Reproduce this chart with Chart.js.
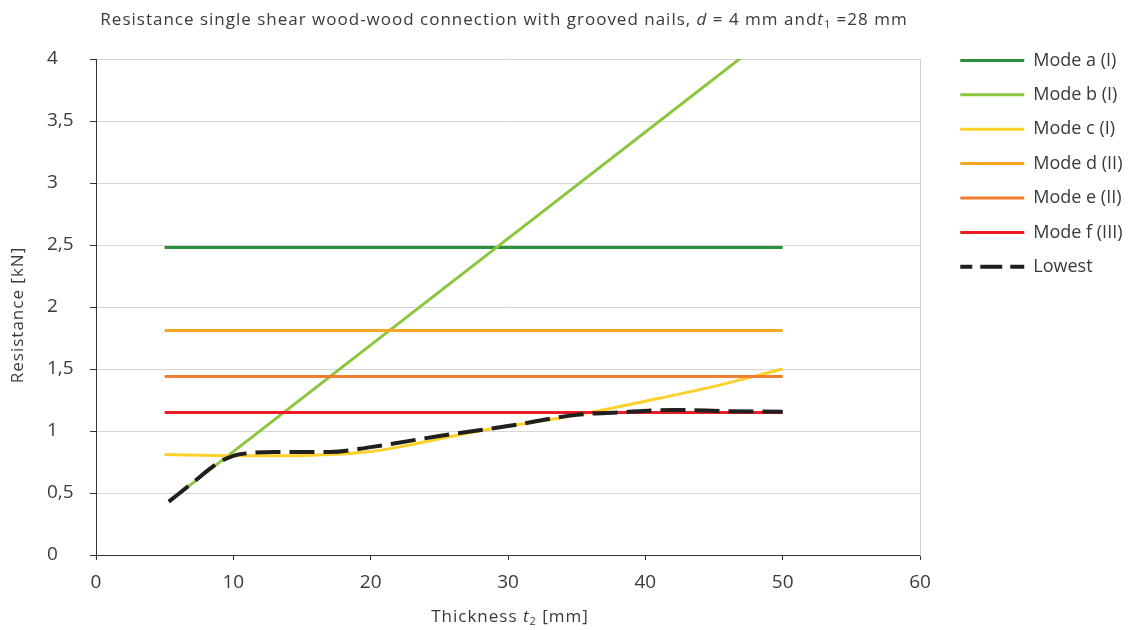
<!DOCTYPE html>
<html>
<head>
<meta charset="utf-8">
<script src="https://cdn.jsdelivr.net/npm/chart.js@4.4.1/dist/chart.umd.min.js"></script>
<style>
  body { margin: 0; background: #fff; }
  #wrap { width: 1139px; height: 630px; position: relative; }
</style>
</head>
<body>
<div id="wrap"><canvas id="resChart"></canvas></div>
<script>
// values
const seriesNames = ['Mode a (I)', 'Mode b (I)', 'Mode c (I)', 'Mode d (II)', 'Mode e (II)', 'Mode f (III)', 'Lowest'];

const flatX = [5, 50];
const modeA = [2.48, 2.48];
const modeD = [1.81, 1.81];
const modeE = [1.44, 1.44];
const modeF = [1.15, 1.15];

const modeBX = [5.3, 50];
const modeB = [0.43, 4.27];

const modeCX = [5, 10, 14, 17, 20, 22, 26, 30, 33, 36, 40, 45, 50];
const modeC = [0.81, 0.80, 0.80, 0.81, 0.835, 0.87, 0.96, 1.04, 1.09, 1.15, 1.24, 1.36, 1.50];

const lowX = [5.3, 7, 9, 10, 11, 13, 17, 20, 25, 30, 35, 38, 42, 46, 50];
const lowY = [0.43, 0.58, 0.75, 0.80, 0.82, 0.83, 0.83, 0.87, 0.96, 1.04, 1.13, 1.15, 1.17, 1.16, 1.155];

const xTicks = [0, 10, 20, 30, 40, 50, 60];
const yTicks = [0, 0.5, 1, 1.5, 2, 2.5, 3, 3.5, 4];

function pts(xs, ys) {
  return xs.map((x, i) => ({ x: x, y: ys[i] }));
}

const FONT = '"Open Sans", "DejaVu Sans", sans-serif';
const TXT = '#3a3a3a';
const PLOT_RIGHT = 920;

// draws a line of text made of normal / italic / subscript pieces
function drawRich(ctx, parts, cx, cy, size, rotate) {
  ctx.save();
  ctx.letterSpacing = '1px';
  ctx.fillStyle = TXT;
  ctx.textBaseline = 'middle';
  ctx.textAlign = 'left';
  const fonts = parts.map(p => (p.i ? 'italic ' : '') + (p.sub ? Math.round(size * 0.65) : size) + 'px ' + FONT);
  let total = 0;
  const widths = parts.map((p, k) => { ctx.font = fonts[k]; const w = ctx.measureText(p.t).width; total += w; return w; });
  ctx.translate(cx, cy);
  if (rotate) ctx.rotate(-Math.PI / 2);
  let x = -total / 2;
  parts.forEach((p, k) => {
    ctx.font = fonts[k];
    ctx.fillText(p.t, x, p.sub ? size * 0.3 : 0);
    x += widths[k];
  });
  ctx.restore();
}

const richText = {
  id: 'richText',
  afterDraw(chart) {
    const ctx = chart.ctx;
    const a = chart.chartArea;
    const mid = (a.left + a.right) / 2;
    drawRich(ctx, [
      { t: 'Resistance single shear wood-wood connection with grooved nails, ' },
      { t: 'd', i: true },
      { t: ' = 4 mm and' },
      { t: 't', i: true },
      { t: '1', sub: true },
      { t: ' =28 mm' }
    ], mid - 4, 20, 17);
    drawRich(ctx, [
      { t: 'Thickness ' },
      { t: 't', i: true },
      { t: '2', sub: true },
      { t: ' [mm]' }
    ], mid + 2, 617, 17);
    drawRich(ctx, [{ t: 'Resistance [kN]' }], 18, (a.top + a.bottom) / 2 + 8, 17, true);
  }
};

// right padding so the legend lines start near x = 958
const mctx = document.createElement('canvas').getContext('2d');
mctx.font = '18px ' + FONT;
const widest = Math.max(...seriesNames.map(s => mctx.measureText(s).width));
const legendW = 16 + 64 + 9 + widest + 10;
const padRight = Math.max(0, 1139 - 942 - legendW + 7);

const ctx = document.getElementById('resChart').getContext('2d');
new Chart(ctx, {
  type: 'line',
  data: {
    datasets: [
      { label: seriesNames[0], data: pts(flatX, modeA), borderColor: '#2b8f3d', backgroundColor: '#2b8f3d', borderWidth: 3, order: 6 },
      { label: seriesNames[1], data: pts(modeBX, modeB), borderColor: '#8cc63f', backgroundColor: '#8cc63f', borderWidth: 3, order: 5 },
      { label: seriesNames[2], data: pts(modeCX, modeC), borderColor: '#fdd02a', backgroundColor: '#fdd02a', borderWidth: 3, order: 4, cubicInterpolationMode: 'monotone' },
      { label: seriesNames[3], data: pts(flatX, modeD), borderColor: '#f6a623', backgroundColor: '#f6a623', borderWidth: 3, order: 3 },
      { label: seriesNames[4], data: pts(flatX, modeE), borderColor: '#ef7f2e', backgroundColor: '#ef7f2e', borderWidth: 3, order: 2 },
      { label: seriesNames[5], data: pts(flatX, modeF), borderColor: '#ec1c24', backgroundColor: '#ec1c24', borderWidth: 3, order: 1 },
      { label: seriesNames[6], data: pts(lowX, lowY), borderColor: '#1f1f1f', backgroundColor: '#1f1f1f', borderWidth: 4, borderDash: [25, 9], order: 0, cubicInterpolationMode: 'monotone' }
    ]
  },
  options: {
    responsive: true,
    maintainAspectRatio: false,
    animation: false,
    elements: { point: { radius: 0, hoverRadius: 0 }, line: { borderCapStyle: 'butt' } },
    layout: { padding: { top: 35, left: 47, right: padRight, bottom: 0 } },
    plugins: {
      title: { display: false },
      tooltip: { enabled: false },
      legend: {
        position: 'right',
        align: 'start',
        labels: {
          usePointStyle: true,
          pointStyle: 'line',
          pointStyleWidth: 64,
          padding: 16.4,
          color: TXT,
          font: { family: FONT, size: 18 },
          generateLabels(chart) {
            const items = Chart.defaults.plugins.legend.labels.generateLabels(chart);
            items.forEach(it => {
              const ds = chart.data.datasets[it.datasetIndex];
              it.strokeStyle = ds.borderColor;
              it.lineWidth = ds.borderWidth;
              it.lineDash = ds.borderDash ? [22, 8] : [];
              it.lineDashOffset = ds.borderDash ? 10 : 0;
            });
            return items.sort((a, b) => a.datasetIndex - b.datasetIndex);
          }
        }
      }
    },
    scales: {
      x: {
        type: 'linear',
        min: 0,
        max: 60,
        afterBuildTicks: s => { s.ticks = xTicks.map(v => ({ value: v })); },
        afterFit: s => { s.height = 75; },
        grid: { drawOnChartArea: false, color: '#333', tickLength: 5 },
        border: { color: '#333', width: 1 },
        ticks: { color: TXT, padding: 11, font: { family: FONT, size: 19 } }
      },
      y: {
        min: 0,
        max: 4,
        afterBuildTicks: s => { s.ticks = yTicks.map(v => ({ value: v })); },
        afterFit: s => { s.width = 49; s.paddingTop = 59; },
        grid: {
          color: c => (c.tick && c.tick.value === 0 ? 'rgba(0,0,0,0)' : '#d6d6d6'),
          tickColor: '#333',
          tickLength: 6
        },
        border: { color: '#333', width: 1 },
        ticks: {
          color: TXT,
          crossAlign: 'far',
          font: { family: FONT, size: 19 },
          callback: v => String(v).replace('.', ',')
        }
      },
      yRight: {
        position: 'right',
        min: 0,
        max: 4,
        // spacer between plot and legend, sized so the plot ends at PLOT_RIGHT
        afterFit: s => {
          const lw = s.chart.legend ? s.chart.legend.width : legendW;
          s.width = Math.max(0, 1139 - padRight - lw - PLOT_RIGHT);
        },
        grid: { drawOnChartArea: false, drawTicks: false },
        border: { color: '#cfcfcf', width: 1 },
        ticks: { display: false }
      }
    }
  },
  plugins: [richText]
});
</script>
</body>
</html>
